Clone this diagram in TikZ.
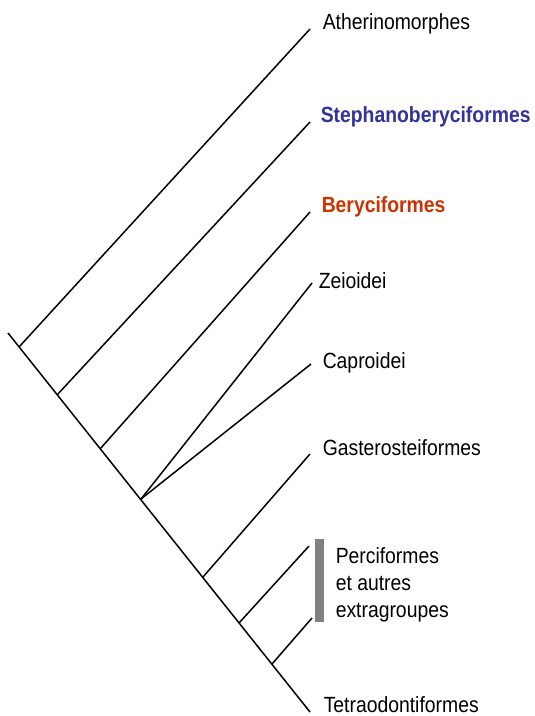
\documentclass[tikz,border=0pt]{standalone}
\usepackage{fontspec}
\setmainfont{Liberation Sans}[FakeStretch=0.88]
\usetikzlibrary{positioning}
\definecolor{stephblue}{RGB}{51,51,153}
\definecolor{berred}{RGB}{204,51,0}
\definecolor{bargray}{RGB}{128,128,128}
\begin{document}
\begin{tikzpicture}[x=1pt, y=-1pt, line width=1.5pt, font=\fontsize{22}{27}\selectfont,
  taxon/.style={anchor=base west, inner sep=0pt}]
\useasboundingbox (0,0) rectangle (535,716);
% spine and its nodes
\coordinate (root) at (8,333);
\coordinate (tetraT) at (310,712);
\coordinate (n1) at (19,347);
\coordinate (n2) at (57,395);
\coordinate (n3) at (100,449);
\coordinate (n4) at (141,499);
\coordinate (n5) at (203,577);
\coordinate (n6) at (239,623);
\coordinate (n7) at (272,664);
\draw (root) -- (tetraT);
% branch tips
\coordinate (athT) at (310,29);
\coordinate (stephT) at (310,122);
\coordinate (beryT) at (310,212);
\coordinate (zeiT) at (312,283);
\coordinate (capT) at (311,364);
\coordinate (gastT) at (310,454);
\coordinate (percT) at (309,546);
\coordinate (extrT) at (312,618);
\draw (n1) -- (athT);
\draw (n2) -- (stephT);
\draw (n3) -- (beryT);
\draw (n4) -- (zeiT);
\draw (n4) -- (capT);
\draw (n5) -- (gastT);
\draw (n6) -- (percT);
\draw (n7) -- (extrT);
% labels
\node[taxon] (ath) at (322,29) {Atherinomorphes};
\node[taxon, stephblue, font=\fontsize{22}{27}\selectfont\bfseries] (steph) at (320,122) {Stephanoberyciformes};
\node[taxon, berred, font=\fontsize{22}{27}\selectfont\bfseries] (bery) at (321,212) {Beryciformes};
\node[taxon] (zei) at (318,288) {Zeioidei};
\node[taxon] (cap) at (322,368) {Caproidei};
\node[taxon] (gast) at (322,455) {Gasterosteiformes};
\node[taxon] (tetra) at (323,712) {Tetraodontiformes};
\fill[bargray] (315,539) rectangle (324,622);
\node[anchor=west, inner sep=0pt, align=left] (perc) at (335,585) {Perciformes\\et autres\\extragroupes};
\end{tikzpicture}
\end{document}
